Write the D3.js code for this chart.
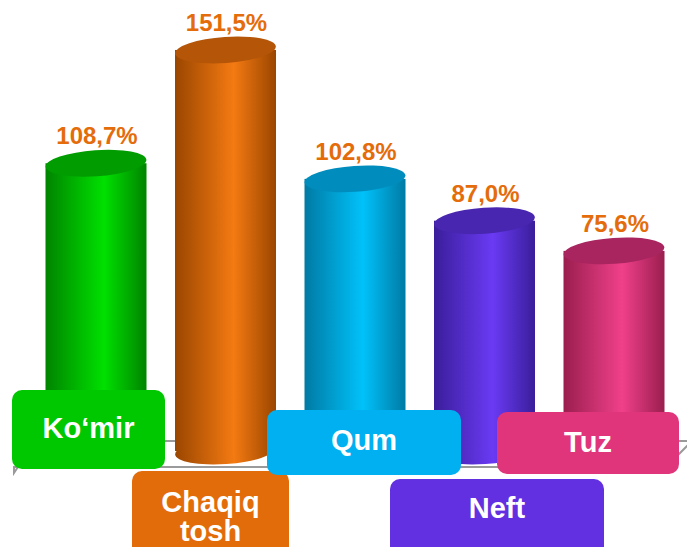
<!DOCTYPE html>
<html lang="uz">
<head>
<meta charset="UTF-8">
<title>Cylinders</title>
<script src="https://d3js.org/d3.v7.min.js"></script>
<style>
  body { margin: 0; padding: 0; background: #fff; }
  svg { display: block; font-family: "Liberation Sans", Arial, sans-serif; }
  .value { font-size: 24px; font-weight: bold; fill: #E46C0A; }
  .cat { font-size: 29px; font-weight: bold; fill: #fff; }
</style>
</head>
<body>
<div id="chart"></div>
<script>
const categories = ["Ko‘mir", "Chaqiq tosh", "Qum", "Neft", "Tuz"];
const values = [108.7, 151.5, 102.8, 87.0, 75.6];
const valueLabels = ["108,7%", "151,5%", "102,8%", "87,0%", "75,6%"];

// colours: [edge, middle, top, label box]
const palette = [
  ["#008400", "#00E000", "#009C00", "#00C800"],
  ["#9A4600", "#F47A12", "#B45508", "#E36C0A"],
  ["#007AA4", "#00C2FA", "#008DBE", "#00B0F0"],
  ["#3A1E9A", "#6A3AF4", "#4826B0", "#6230E0"],
  ["#9A1E4E", "#F0408A", "#A82560", "#E0357A"]
];

// label box layout [x, y, w, h]
const boxes = [
  [12, 390, 153, 79],
  [132, 471, 157, 90],
  [267, 410, 194, 65],
  [390, 479, 214, 80],
  [497, 412, 182, 62]
];

const width = 687, height = 547;
const svg = d3.select("#chart").append("svg")
  .attr("width", width).attr("height", height);

const x = d3.scalePoint().domain(categories).range([96, 614]);
const y = d3.scaleLinear().domain([0, 170]).range([451, 1]);
const cw = 101, ry = 13, tilt = -4;

const defs = svg.append("defs");
categories.forEach((c, i) => {
  const g = defs.append("linearGradient").attr("id", "grad" + i)
    .attr("x1", "0").attr("x2", "1").attr("y1", "0").attr("y2", "0");
  g.append("stop").attr("offset", "0").attr("stop-color", palette[i][0]);
  g.append("stop").attr("offset", "0.58").attr("stop-color", palette[i][1]);
  g.append("stop").attr("offset", "1").attr("stop-color", palette[i][0]);
});

// floor
const floor = svg.append("g").attr("fill", "none").attr("stroke", "#9a9a9a").attr("stroke-width", 2);
floor.append("path").attr("d", "M14,473 L14,467 L666,467 L692,441 L35,441 Z");

// cylinders
const cyl = svg.selectAll(".cyl").data(categories).enter().append("g").attr("class", "cyl");
cyl.append("ellipse")
  .attr("cx", d => x(d)).attr("cy", y(0)).attr("rx", cw / 2).attr("ry", ry)
  .attr("transform", d => `rotate(${tilt},${x(d)},${y(0)})`)
  .attr("fill", (d, i) => "url(#grad" + i + ")");
cyl.append("rect")
  .attr("x", d => x(d) - cw / 2).attr("width", cw)
  .attr("y", (d, i) => y(values[i]))
  .attr("height", (d, i) => y(0) - y(values[i]))
  .attr("fill", (d, i) => "url(#grad" + i + ")");
cyl.append("ellipse")
  .attr("cx", d => x(d)).attr("cy", (d, i) => y(values[i]))
  .attr("rx", cw / 2).attr("ry", ry)
  .attr("transform", (d, i) => `rotate(${tilt},${x(d)},${y(values[i])})`)
  .attr("fill", (d, i) => palette[i][2]);

// value labels
svg.selectAll(".value").data(categories).enter().append("text")
  .attr("class", "value")
  .attr("x", d => x(d) + 1)
  .attr("y", (d, i) => y(values[i]) - 19)
  .attr("text-anchor", "middle")
  .text((d, i) => valueLabels[i]);

// category boxes
const lab = svg.selectAll(".lab").data(categories).enter().append("g").attr("class", "lab");
lab.append("rect")
  .attr("x", (d, i) => boxes[i][0]).attr("y", (d, i) => boxes[i][1])
  .attr("width", (d, i) => boxes[i][2]).attr("height", (d, i) => boxes[i][3])
  .attr("rx", 10).attr("fill", (d, i) => palette[i][3]);
lab.each(function(d, i) {
  const b = boxes[i];
  const t = d3.select(this).append("text").attr("class", "cat").attr("text-anchor", "middle");
  if (d === "Chaqiq tosh") {
    t.append("tspan").attr("x", b[0] + b[2] / 2).attr("y", 512).text("Chaqiq");
    t.append("tspan").attr("x", b[0] + b[2] / 2).attr("y", 541).text("tosh");
  } else {
    const cyText = { 0: 438, 2: 450, 3: 518, 4: 452 }[i];
    t.attr("x", b[0] + b[2] / 2).attr("y", cyText).text(d);
  }
});
</script>
</body>
</html>
